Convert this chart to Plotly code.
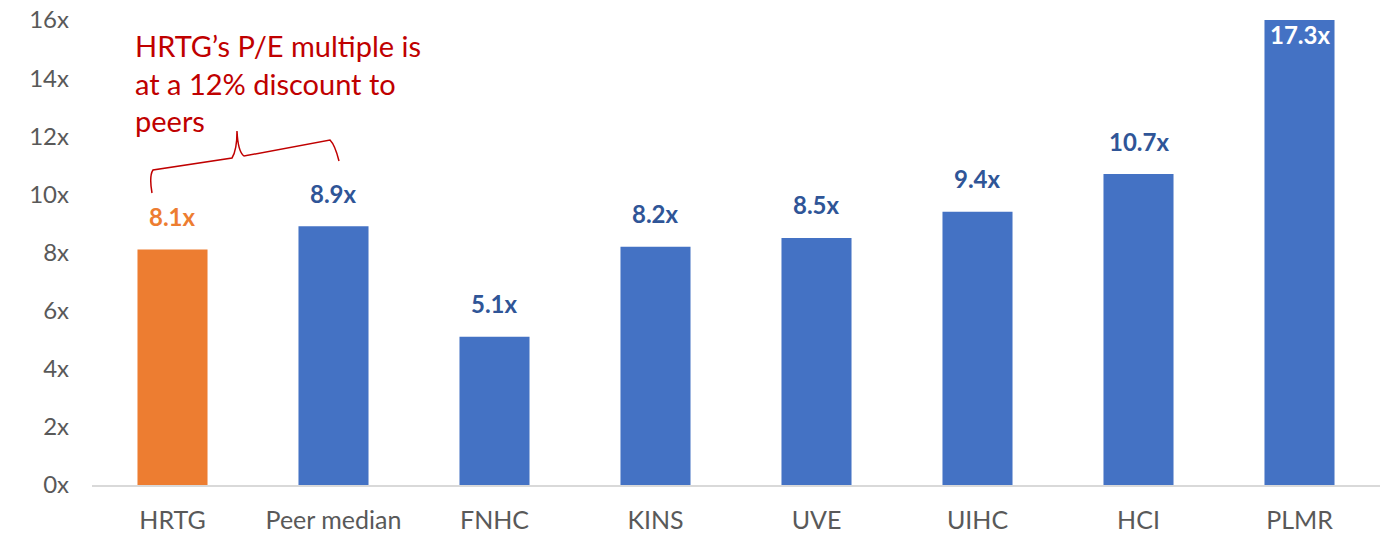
import plotly.graph_objects as go

categories = ["HRTG", "Peer median", "FNHC", "KINS", "UVE", "UIHC", "HCI", "PLMR"]
pe_values = [8.1, 8.9, 5.1, 8.2, 8.5, 9.4, 10.7, 17.3]
bar_colors = ["#ED7D31"] + ["#4472C4"] * 7
label_colors = ["#ED7D31"] + ["#2F5597"] * 7
y_tick_vals = [0, 2, 4, 6, 8, 10, 12, 14, 16]
y_tick_text = [f"{v}x" for v in y_tick_vals]
y_max = 16
note_text = "HRTG’s P/E multiple is<br>at a 12% discount to<br>peers"

FONT = "Lato"

fig = go.Figure()
fig.add_trace(go.Bar(x=categories, y=pe_values, marker=dict(color=bar_colors, line=dict(width=0)),
                     width=0.435, hoverinfo="skip"))

for c, v, col in zip(categories, pe_values, label_colors):
    if v > y_max:
        fig.add_annotation(x=c, y=y_max, text=f"<b>{v:.1f}x</b>", showarrow=False,
                           yanchor="middle", yshift=-14,
                           font=dict(family=FONT, size=24, color="white"))
    else:
        fig.add_annotation(x=c, y=v, text=f"<b>{v:.1f}x</b>", showarrow=False,
                           yanchor="middle", yshift=33,
                           font=dict(family=FONT, size=24, color=col))

# target plot area in page pixels
L, R, T, B = 92, 1380, 20, 485
W, H = 1391, 535

def px(x, y):
    return (x - L) / (R - L), (B - y) / (B - T)

pts = [(152, 193), (149, 176), (153, 170), (232, 158), (237, 150), (237, 131),
       (238, 152), (244, 156), (330, 140), (335, 145), (339, 161)]
p = [px(*q) for q in pts]
path = (f"M {p[0][0]},{p[0][1]} Q {p[1][0]},{p[1][1]} {p[2][0]},{p[2][1]} "
        f"L {p[3][0]},{p[3][1]} Q {p[4][0]},{p[4][1]} {p[5][0]},{p[5][1]} "
        f"Q {p[6][0]},{p[6][1]} {p[7][0]},{p[7][1]} L {p[8][0]},{p[8][1]} "
        f"Q {p[9][0]},{p[9][1]} {p[10][0]},{p[10][1]}")
fig.add_shape(type="path", xref="paper", yref="paper", path=path,
              line=dict(color="#C00000", width=1.5))

ax, ay = px(133, 26)
fig.add_annotation(xref="paper", yref="paper", x=ax, y=ay, xanchor="left", yanchor="top",
                   align="left", showarrow=False, text=note_text,
                   font=dict(family=FONT, size=29, color="#C00000"))

fig.update_layout(
    width=W, height=H,
    margin=dict(l=L, r=W - R, t=T, b=H - B, autoexpand=False),
    plot_bgcolor="white", paper_bgcolor="white",
    showlegend=False,
    bargap=0.565,
    font=dict(family=FONT, size=24, color="#595959"),
)
fig.update_xaxes(showline=True, linecolor="#D9D9D9", linewidth=2, ticks="", showgrid=False,
                 tickfont=dict(size=25, color="#595959"), ticklabelstandoff=12, automargin=False)
fig.update_yaxes(range=[0, y_max], tickvals=y_tick_vals, ticktext=y_tick_text, showgrid=False,
                 zeroline=False, showline=False, tickfont=dict(size=24, color="#595959"),
                 ticklabelstandoff=22, automargin=False, ticklabeloverflow="allow")

fig.write_html("out.html", config={"displayModeBar": False},
               post_script="document.body.style.margin='0';document.body.style.overflow='hidden';")
